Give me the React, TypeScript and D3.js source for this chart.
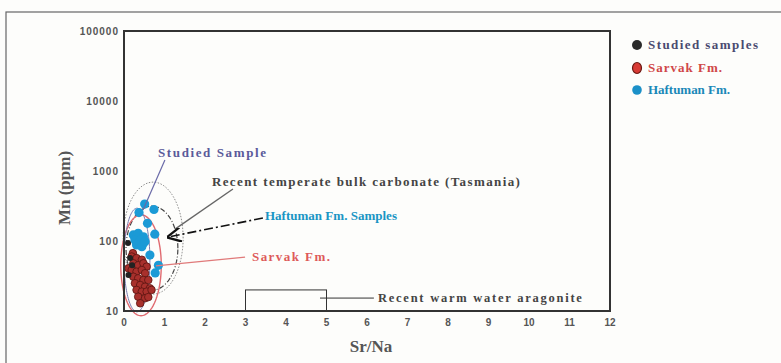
import React from "react";
import * as d3 from "d3";

// Sr/Na versus Mn (ppm) for the carbonate samples
const haftumanSrNa = [0.51, 0.74, 0.37, 0.58, 0.76, 0.23, 0.35, 0.48, 0.27, 0.4, 0.48, 0.31, 0.44, 0.52, 0.64, 0.85, 0.77];
const haftumanMn = [338, 282, 255, 179, 125, 122, 129, 115, 103, 103, 93, 88, 83, 98, 63, 45, 35];

const sarvakSrNa = [0.22, 0.19, 0.31, 0.44, 0.23, 0.35, 0.48, 0.56, 0.11, 0.19, 0.31, 0.44, 0.52, 0.23, 0.35, 0.48, 0.6, 0.27, 0.4, 0.52, 0.64, 0.31, 0.44, 0.56, 0.68, 0.35, 0.52, 0.6, 0.4];
const sarvakMn = [67, 60, 57, 54, 48, 45, 48, 43, 40.7, 38.5, 36.4, 38.5, 34.6, 30.9, 29.3, 27.7, 27.7, 24.9, 23.5, 22.2, 21.1, 20, 18.9, 18.9, 20, 16, 15.2, 15.8, 12.9];

const studiedSrNa = [0.1, 0.15, 0.11, 0.48, 0.2];
const studiedMn = [94, 57, 32.7, 115, 45];

const xTicks = [0, 1, 2, 3, 4, 5, 6, 7, 8, 9, 10, 11, 12];
const yTicks = [10, 100, 1000, 10000, 100000];

// Envelope fields: centre (Sr/Na, Mn), half-width in Sr/Na, half-height in decades
const fieldNames = ["temperate", "haftuman", "sarvak", "studied"];
const fieldCx = [0.72, 0.69, 0.42, 0.32];
const fieldCy = [110, 79, 45, 53.5];
const fieldRx = [0.74, 0.64, 0.5, 0.32];
const fieldRy = [0.8, 0.6, 0.72, 0.74];

// Aragonite field box
const aragoniteX = [3, 5];
const aragoniteY = [10, 20];

const W = 781;
const H = 363;
const left = 124;
const right = 610;
const top = 31;
const bottom = 311;

export default function App() {
  const x = d3.scaleLinear().domain([0, 12]).range([left, right]);
  const y = d3.scaleLog().domain([10, 100000]).range([bottom, top]);

  const ellipsePath = (i: number) => {
    const pts: [number, number][] = d3.range(0, 2 * Math.PI + 0.01, Math.PI / 60).map((t) => [
      x(fieldCx[i] + fieldRx[i] * Math.cos(t)),
      y(fieldCy[i] * Math.pow(10, fieldRy[i] * Math.sin(t))),
    ]);
    return d3.line()(pts) as string;
  };

  const fieldStyles: Record<string, React.SVGProps<SVGPathElement>> = {
    temperate: { stroke: "#8a8a8a", strokeWidth: 1, strokeDasharray: "1.5 1.5" },
    haftuman: { stroke: "#444", strokeWidth: 1.2, strokeDasharray: "5 2 1 2" },
    sarvak: { stroke: "#e06a70", strokeWidth: 1.4 },
    studied: { stroke: "#7a7ab0", strokeWidth: 1 },
  };

  const serif = "'Liberation Serif', 'Times New Roman', serif";
  const sans = "'Liberation Sans', Arial, sans-serif";

  return (
    <svg width={W} height={H} style={{ position: "absolute", left: 0, top: 0, background: "#fdfdfb" }}>
      <defs>
        <marker id="arrow" viewBox="0 0 10 10" refX="9" refY="5" markerWidth="9" markerHeight="9" orient="auto">
          <path d="M10,5 L0,0 M10,5 L0,10" stroke="#111" strokeWidth="1.6" fill="none" />
        </marker>
      </defs>
      {/* outer frame */}
      <rect x={6} y={12} width={W} height={H} fill="none" stroke="#666" strokeWidth={1.2} />

      {/* envelopes */}
      {fieldNames.map((n, i) => (
        <path key={n} d={ellipsePath(i)} fill="none" {...fieldStyles[n]} />
      ))}

      {/* aragonite box */}
      <rect
        x={x(aragoniteX[0])}
        y={y(aragoniteY[1])}
        width={x(aragoniteX[1]) - x(aragoniteX[0])}
        height={y(aragoniteY[0]) - y(aragoniteY[1])}
        fill="none"
        stroke="#333"
        strokeWidth={1}
      />

      {/* points */}
      {sarvakSrNa.map((v, i) => (
        <circle key={"s" + i} cx={x(v)} cy={y(sarvakMn[i])} r={3.8} fill="#a8302c" stroke="#5a1410" strokeWidth={0.8} />
      ))}
      {studiedSrNa.map((v, i) => (
        <circle key={"b" + i} cx={x(v)} cy={y(studiedMn[i])} r={3} fill="#222" />
      ))}
      {haftumanSrNa.map((v, i) => (
        <circle key={"h" + i} cx={x(v)} cy={y(haftumanMn[i])} r={4.6} fill="#1b9ad6" />
      ))}

      {/* plot frame */}
      <rect x={left} y={top} width={right - left} height={bottom - top} fill="none" stroke="#333" strokeWidth={2} />

      {/* ticks */}
      {xTicks.map((t) => (
        <text key={"x" + t} x={x(t)} y={bottom + 15} textAnchor="middle" fontFamily={sans} fontWeight="bold" fontSize={10} fill="#555">
          {t}
        </text>
      ))}
      {yTicks.map((t) => (
        <text key={"y" + t} x={left - 5} y={y(t) + 3.5} textAnchor="end" fontFamily={sans} fontWeight="bold" fontSize={10} letterSpacing={1} fill="#555">
          {t}
        </text>
      ))}

      {/* axis titles */}
      <text x={371} y={352} textAnchor="middle" fontFamily={serif} fontWeight="bold" fontSize={17} fill="#555">
        Sr/Na
      </text>
      <text transform="translate(70,188) rotate(-90)" textAnchor="middle" fontFamily={serif} fontWeight="bold" fontSize={17} fill="#555">
        Mn (ppm)
      </text>

      {/* annotations */}
      <line x1={x(1.01)} y1={y(1435)} x2={x(0.47)} y2={y(277)} stroke="#6a6aa8" strokeWidth={1.2} />
      <text x={x(0.84)} y={y(1585)} fontFamily={serif} fontWeight="bold" fontSize={13} textLength={108} fill="#5a5a9a">
        Studied Sample
      </text>

      <line x1={x(2.69)} y1={y(553)} x2={x(1.26)} y2={y(148)} stroke="#666" strokeWidth={1.4} />
      <text x={x(2.17)} y={y(611)} fontFamily={serif} fontWeight="bold" fontSize={13} textLength={308} fill="#444">
        Recent temperate bulk carbonate (Tasmania)
      </text>

      <line x1={x(3.43)} y1={y(213)} x2={x(1.09)} y2={y(114)} stroke="#111" strokeWidth={1.6} strokeDasharray="9 3 2 3" markerEnd="url(#arrow)" />
      <text x={x(3.48)} y={y(200)} fontFamily={serif} fontWeight="bold" fontSize={13} textLength={132} fill="#1a95c4">
        Haftuman Fm. Samples
      </text>

      <line x1={x(2.99)} y1={y(59)} x2={x(0.79)} y2={y(44)} stroke="#e07a7a" strokeWidth={1.3} />
      <text x={x(3.16)} y={y(51.8)} fontFamily={serif} fontWeight="bold" fontSize={13} textLength={78} fill="#dd5a5a">
        Sarvak Fm.
      </text>

      <line x1={x(4.84)} y1={y(15.3)} x2={x(6.17)} y2={y(15.3)} stroke="#333" strokeWidth={1} />
      <text x={x(6.27)} y={y(13.4)} fontFamily={serif} fontWeight="bold" fontSize={12.5} textLength={204} fill="#444">
        Recent warm water aragonite
      </text>

      {/* legend */}
      <circle cx={637} cy={45} r={5} fill="#2a2a2a" />
      <text x={648} y={49} fontFamily={serif} fontWeight="bold" fontSize={13} textLength={110} fill="#4a4a70">
        Studied samples
      </text>
      <ellipse cx={637} cy={68} rx={4.5} ry={5.5} fill="#d83a34" stroke="#6a1a14" strokeWidth={1.2} />
      <text x={648} y={72} fontFamily={serif} fontWeight="bold" fontSize={13} textLength={74} fill="#d04848">
        Sarvak Fm.
      </text>
      <circle cx={637} cy={90} r={4.8} fill="#1b90c8" />
      <text x={648} y={94} fontFamily={serif} fontWeight="bold" fontSize={13} textLength={82} fill="#1a88b8">
        Haftuman Fm.
      </text>
    </svg>
  );
}
